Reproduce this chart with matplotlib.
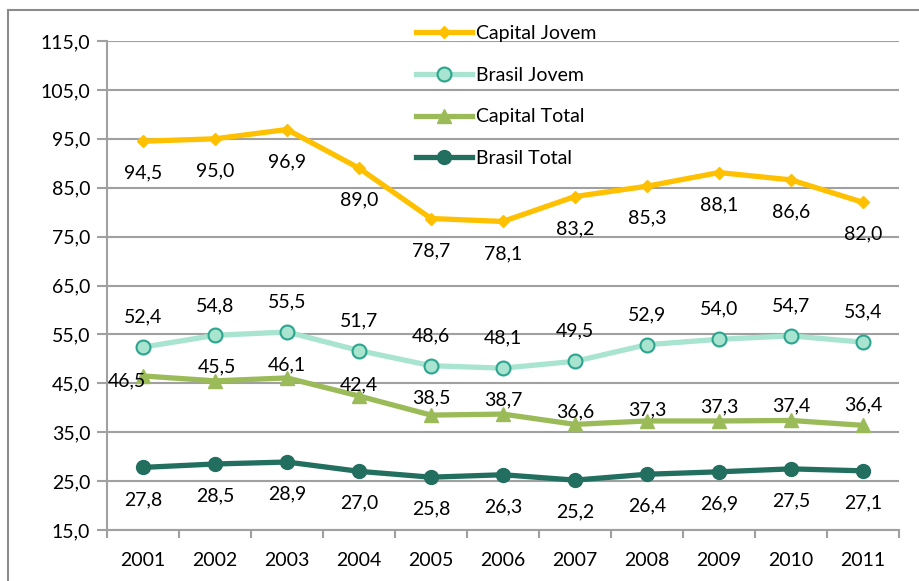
import matplotlib
matplotlib.use("Agg")
import matplotlib.pyplot as plt
from matplotlib.lines import Line2D
from matplotlib.ticker import FixedLocator, NullFormatter, FuncFormatter

plt.rcParams['font.family'] = ['Lato', 'DejaVu Sans']

years = ["2001", "2002", "2003", "2004", "2005", "2006", "2007", "2008", "2009", "2010", "2011"]
capital_jovem = [94.5, 95.0, 96.9, 89.0, 78.7, 78.1, 83.2, 85.3, 88.1, 86.6, 82.0]
brasil_jovem = [52.4, 54.8, 55.5, 51.7, 48.6, 48.1, 49.5, 52.9, 54.0, 54.7, 53.4]
capital_total = [46.5, 45.5, 46.1, 42.4, 38.5, 38.7, 36.6, 37.3, 37.3, 37.4, 36.4]
brasil_total = [27.8, 28.5, 28.9, 27.0, 25.8, 26.3, 25.2, 26.4, 26.9, 27.5, 27.1]

# label offsets (pixels) for Capital Total labels
ct_offsets = [(-16, -5), (2, 14), (0, 13), (0, 11), (0, 17), (0, 14),
              (0, 13), (0, 11), (0, 14), (0, 15), (0, 20)]

W, H = 919, 581
fig = plt.figure(figsize=(W / 100, H / 100), dpi=100)
ax = fig.add_axes([107 / W, (H - 530) / H, (899 - 107) / W, (530 - 41) / H])

x = list(range(len(years)))
fs = 14
grid_c = '#A0A0A0'

ax.set_ylim(15, 115)
ax.set_xlim(-0.5, len(years) - 0.5)
ax.set_yticks([15 + 10 * i for i in range(11)])
ax.yaxis.set_major_formatter(FuncFormatter(lambda v, p: f"{v:.1f}".replace('.', ',')))
ax.grid(axis='y', color=grid_c, linewidth=1.5, zorder=0)
ax.set_axisbelow(True)

ax.xaxis.set_major_locator(FixedLocator([i - 0.5 for i in range(len(years) + 1)]))
ax.xaxis.set_major_formatter(NullFormatter())
ax.xaxis.set_minor_locator(FixedLocator(x))
ax.set_xticklabels(years, minor=True)
ax.tick_params(axis='x', which='major', length=6, width=1.5, color=grid_c, direction='out')
ax.tick_params(axis='x', which='minor', length=0, pad=16, labelsize=fs)
ax.tick_params(axis='y', length=7, width=1.5, color=grid_c, direction='out', pad=5, labelsize=fs)

for s in ['top', 'right']:
    ax.spines[s].set_visible(False)
for s in ['left', 'bottom']:
    ax.spines[s].set_color(grid_c)
    ax.spines[s].set_linewidth(1.5)

c_cj = '#FFC000'
c_bj_line = '#A8E4D0'
c_bj_edge = '#2AA58E'
c_ct = '#9BBB59'
c_bt = '#226E5F'

l1, = ax.plot(x, capital_jovem, color=c_cj, lw=3.8, marker='D', ms=6.5,
              mfc=c_cj, mec=c_cj, label='Capital Jovem', zorder=3)
l2, = ax.plot(x, brasil_jovem, color=c_bj_line, lw=3.8, marker='o', ms=10,
              mfc=c_bj_line, mec=c_bj_edge, mew=1.5, label='Brasil Jovem', zorder=3)
l3, = ax.plot(x, capital_total, color=c_ct, lw=3.8, marker='^', ms=10,
              mfc=c_ct, mec=c_ct, label='Capital Total', zorder=3)
l4, = ax.plot(x, brasil_total, color=c_bt, lw=3.8, marker='o', ms=10,
              mfc=c_bt, mec=c_bt, label='Brasil Total', zorder=3)

def fmt(v):
    return f"{v:.1f}".replace('.', ',')

for xi, v in zip(x, capital_jovem):
    ax.annotate(fmt(v), (xi, v), xytext=(0, -32), textcoords='offset pixels',
                ha='center', va='center', fontsize=fs, zorder=5)
for xi, v in zip(x, brasil_jovem):
    ax.annotate(fmt(v), (xi, v), xytext=(0, 30), textcoords='offset pixels',
                ha='center', va='center', fontsize=fs, zorder=5)
for xi, v, off in zip(x, capital_total, ct_offsets):
    ax.annotate(fmt(v), (xi, v), xytext=off, textcoords='offset pixels',
                ha='center', va='center', fontsize=fs, zorder=5)
for xi, v in zip(x, brasil_total):
    ax.annotate(fmt(v), (xi, v), xytext=(0, -32), textcoords='offset pixels',
                ha='center', va='center', fontsize=fs, zorder=5)

leg = fig.legend(handles=[l1, l2, l3, l4], loc='upper left',
                 bbox_to_anchor=(416 / W, 1 - 25 / H), frameon=False,
                 fontsize=fs, handlelength=2.9, handletextpad=0.2,
                 labelspacing=1.27, borderpad=0, borderaxespad=0)

# outer chart border (left and top)
bc = '#8C8C8C'
fig.add_artist(Line2D([8 / W, 8 / W], [0, 1 - 10 / H], color=bc, lw=1.5, transform=fig.transFigure))
fig.add_artist(Line2D([8 / W, 1], [1 - 10 / H, 1 - 10 / H], color=bc, lw=1.5, transform=fig.transFigure))

fig.savefig('out.png', dpi=100)
